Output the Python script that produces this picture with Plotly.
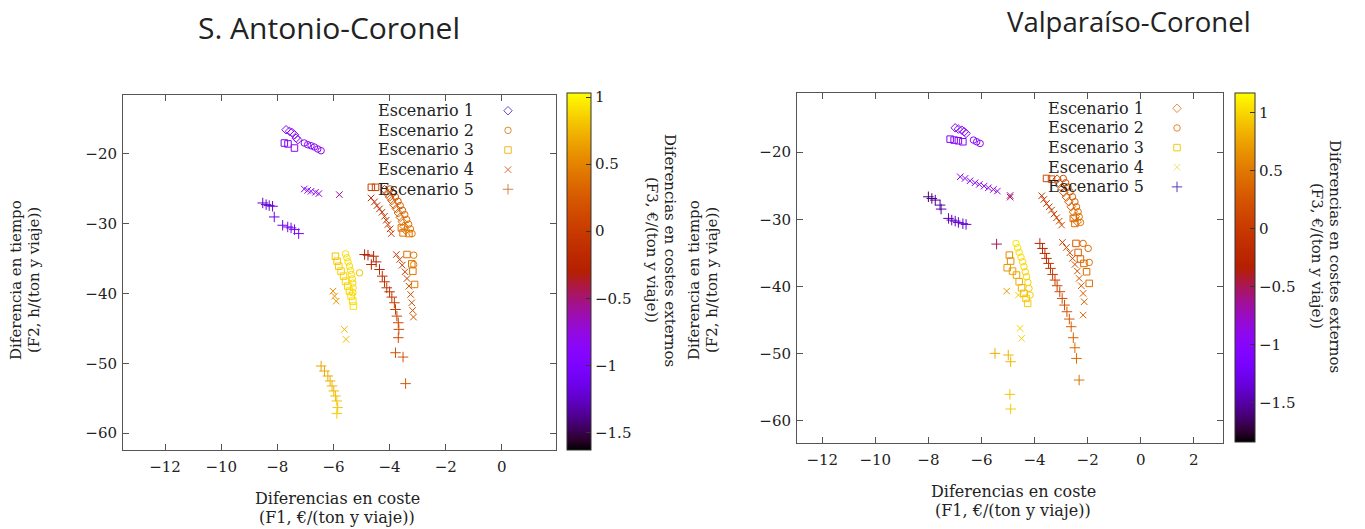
import math
import plotly.graph_objects as go

# ================= DATA =================
# --- S. Antonio-Coronel (F1 = cost diff, F2 = time diff, F3 = external cost diff) ---
sa_e1_f1 = [-7.69, -7.57, -7.48, -7.39, -7.33, -7.27,
            -4.18, -4.08, -4.00, -3.92, -3.85, -3.76, -3.69, -3.62, -3.55, -3.49, -3.43]
sa_e1_f2 = [-16.57, -16.80, -16.96, -17.29, -17.76, -18.00,
            -25.14, -25.71, -26.19, -26.71, -27.29, -27.86, -28.48, -29.10, -29.71, -30.38, -30.95]
sa_e1_f3 = [-0.92, -0.91, -0.90, -0.90, -0.89, -0.88,
            0.12, 0.15, 0.18, 0.21, 0.24, 0.27, 0.30, 0.33, 0.36, 0.39, 0.42]

sa_e2_f1 = [-7.04, -6.92, -6.80, -6.68, -6.56, -6.44,
            -3.98, -3.88, -3.79, -3.70, -3.62, -3.54, -3.46, -3.39, -3.32, -3.26, -3.20,
            -5.57, -5.52, -5.48, -5.43, -5.39, -5.36, -5.33, -5.31, -5.30, -5.31, -5.07,
            -3.14, -3.14]
sa_e2_f2 = [-18.47, -18.71, -18.86, -19.04, -19.33, -19.57,
            -25.05, -25.62, -26.19, -26.81, -27.43, -28.10, -28.71, -29.43, -30.10, -30.76, -31.43,
            -34.33, -34.90, -35.48, -36.10, -36.71, -37.29, -37.90, -38.52, -39.19, -39.90, -37.05,
            -34.52, -35.86]
sa_e2_f3 = [-0.87, -0.86, -0.86, -0.85, -0.84, -0.83,
            0.16, 0.19, 0.22, 0.25, 0.28, 0.31, 0.34, 0.37, 0.40, 0.43, 0.46,
            0.93, 0.92, 0.92, 0.91, 0.91, 0.90, 0.90, 0.89, 0.89, 0.88, 0.80,
            0.45, 0.48]

sa_e3_f1 = [-7.75, -7.62, -7.39, -4.65, -4.50, -3.58, -3.52, -3.31,
            -5.93, -5.87, -5.81, -5.73, -5.64, -5.57, -5.49, -5.43, -5.37, -5.31, -5.29,
            -3.38, -3.21, -3.17, -3.11]
sa_e3_f2 = [-18.47, -18.60, -19.19, -24.81, -24.81, -30.62, -31.33, -31.43,
            -34.67, -35.38, -36.10, -36.81, -37.52, -38.24, -38.95, -39.67, -40.38, -41.10, -41.81,
            -34.43, -35.76, -36.81, -38.71]
sa_e3_f3 = [-1.00, -0.95, -0.85, 0.02, 0.06, 0.38, 0.40, 0.42,
            0.80, 0.82, 0.84, 0.85, 0.86, 0.87, 0.88, 0.89, 0.90, 0.91, 0.92,
            0.38, 0.40, 0.42, 0.44]

sa_e4_f1 = [-7.04, -6.92, -6.80, -6.64, -6.52, -5.79,
            -4.66, -4.54, -4.45, -4.36, -4.27, -4.18, -4.12, -4.06, -3.98, -3.94,
            -6.02, -5.96, -5.90, -5.61, -5.55,
            -3.76, -3.64, -3.55, -3.45, -3.38, -3.31, -3.25, -3.21, -3.18, -3.15]
sa_e4_f2 = [-25.05, -25.24, -25.38, -25.52, -25.71, -25.86,
            -26.33, -26.90, -27.43, -27.90, -28.38, -28.95, -29.52, -30.14, -30.76, -31.43,
            -39.67, -40.38, -41.10, -45.14, -46.57,
            -34.43, -35.14, -35.95, -36.90, -37.86, -38.95, -40.14, -41.33, -42.43, -43.38]
sa_e4_f3 = [-0.88, -0.87, -0.86, -0.85, -0.84, -0.60,
            -0.18, -0.15, -0.12, -0.10, -0.08, -0.06, -0.04, -0.02, 0.00, 0.02,
            0.55, 0.58, 0.60, 0.76, 0.78,
            -0.05, 0.00, 0.03, 0.06, 0.09, 0.12, 0.15, 0.18, 0.20, 0.22]

sa_e5_f1 = [-8.52, -8.40, -8.29, -8.17, -8.11, -7.81, -7.63, -7.51, -7.39, -7.24,
            -4.89, -4.77, -4.57, -4.65, -4.48, -4.36, -4.26, -4.18, -4.10, -4.00,
            -3.92, -3.83, -3.79, -3.74, -3.69, -3.67, -3.69, -3.79, -3.52, -3.43,
            -6.44, -6.32, -6.20, -6.12, -6.05, -5.99, -5.93, -5.88, -5.85, -5.88]
sa_e5_f2 = [-27.05, -27.29, -27.43, -27.52, -29.05, -30.24, -30.48, -30.62, -30.86, -31.43,
            -34.43, -34.52, -34.67, -35.86, -35.48, -36.57, -37.52, -38.33, -39.19, -39.76,
            -40.52, -41.33, -42.29, -43.24, -44.19, -45.14, -46.33, -48.48, -49.10, -52.90,
            -50.38, -51.10, -51.81, -52.52, -53.24, -53.95, -54.67, -55.38, -56.33, -57.19]
sa_e5_f3 = [-1.25, -1.22, -1.20, -1.18, -1.15, -1.12, -1.10, -1.08, -1.06, -1.04,
            -0.32, -0.30, -0.27, -0.24, -0.22, -0.19, -0.16, -0.13, -0.10, -0.07,
            -0.04, -0.01, 0.02, 0.05, 0.08, 0.11, 0.14, 0.17, 0.20, 0.23,
            0.66, 0.68, 0.70, 0.72, 0.74, 0.76, 0.78, 0.80, 0.82, 0.84]

# --- Valparaíso-Coronel ---
va_e1_f1 = [-6.99, -6.87, -6.74, -6.65, -6.58,
            -3.15, -3.07, -2.98, -2.90, -2.80, -2.71, -2.62, -2.54, -2.47, -2.39]
va_e1_f2 = [-16.38, -16.58, -16.73, -16.97, -17.22,
            -24.02, -24.66, -25.31, -26.00, -26.70, -27.39, -28.14, -28.88, -29.62, -30.37]
va_e1_f3 = [-1.02, -1.01, -1.00, -0.99, -0.98,
            0.15, 0.19, 0.23, 0.27, 0.30, 0.33, 0.36, 0.39, 0.42, 0.45]

va_e2_f1 = [-6.30, -6.18, -6.05,
            -2.92, -2.83, -2.74, -2.66, -2.57, -2.48, -2.42, -2.36, -2.32, -2.27,
            -4.70, -4.64, -4.58, -4.51, -4.45, -4.40, -4.35, -4.30, -4.25, -4.21, -4.17,
            -2.17, -1.98, -1.94]
va_e2_f2 = [-18.21, -18.46, -18.71,
            -23.92, -24.56, -25.21, -25.90, -26.65, -27.39, -28.14, -28.88, -29.62, -30.47,
            -33.59, -34.24, -34.93, -35.63, -36.32, -37.06, -37.81, -38.55, -39.40, -40.29, -41.28,
            -33.59, -34.34, -36.42]
va_e2_f3 = [-0.97, -0.96, -0.95,
            0.18, 0.22, 0.26, 0.30, 0.33, 0.36, 0.39, 0.42, 0.45, 0.48,
            1.06, 1.05, 1.04, 1.03, 1.02, 1.01, 1.00, 0.99, 0.98, 0.97, 0.96,
            0.40, 0.42, 0.45]

va_e3_f1 = [-7.18, -7.03, -6.87, -6.70, -3.55, -3.36, -2.54, -2.48,
            -4.95, -4.90, -5.03, -4.83, -4.68, -4.58, -4.49, -4.40, -4.32, -4.26,
            -2.44, -2.36, -2.27, -2.14, -2.04, -1.94]
va_e3_f2 = [-18.07, -18.21, -18.31, -18.46, -23.92, -24.02, -29.87, -30.62,
            -35.33, -36.22, -37.21, -37.71, -38.30, -39.30, -40.19, -41.03, -41.78, -42.52,
            -33.59, -34.93, -35.92, -36.57, -37.81, -39.54]
va_e3_f3 = [-1.05, -1.02, -1.00, -0.98, 0.10, 0.14, 0.40, 0.43,
            0.62, 0.65, 0.68, 0.72, 0.76, 0.80, 0.84, 0.88, 0.92, 0.95,
            0.30, 0.33, 0.36, 0.39, 0.42, 0.45]

va_e4_f1 = [-6.80, -6.62, -6.43, -6.24, -6.08, -5.90, -5.74, -5.55, -5.40,
            -4.92, -4.92,
            -3.73, -3.65, -3.55, -3.45, -3.36, -3.27, -3.17, -3.07, -2.98,
            -5.05, -4.61, -4.55, -4.49,
            -2.95, -2.80, -2.67, -2.57, -2.48, -2.39, -2.32, -2.24, -2.17, -2.13, -2.17]
va_e4_f2 = [-23.67, -23.92, -24.27, -24.56, -24.81, -25.06, -25.31, -25.56, -25.80,
            -26.45, -26.70,
            -26.50, -27.04, -27.64, -28.14, -28.63, -29.23, -29.77, -30.27, -30.86,
            -40.69, -41.28, -46.24, -47.73,
            -33.44, -34.19, -34.98, -35.82, -36.72, -37.71, -38.80, -39.89, -41.03, -42.27, -44.26]
va_e4_f3 = [-0.97, -0.96, -0.95, -0.94, -0.93, -0.92, -0.91, -0.90, -0.89,
            -0.58, -0.55,
            -0.10, -0.07, -0.04, -0.01, 0.02, 0.05, 0.08, 0.11, 0.14,
            0.72, 0.95, 0.98, 1.00,
            0.05, 0.09, 0.13, 0.17, 0.20, 0.23, 0.26, 0.29, 0.32, 0.35, 0.38]

va_e5_f1 = [-8.00, -7.87, -7.74, -7.56, -7.52, -7.24, -7.12, -6.99, -6.87, -6.70, -6.58,
            -5.43,
            -3.80, -3.70, -3.61, -3.55, -3.47, -3.40, -3.32, -3.23, -3.15, -3.05,
            -2.96, -2.87, -2.78, -2.69, -2.62, -2.54, -2.48, -2.42, -2.32,
            -5.49, -4.99, -4.90, -4.93, -4.90]
va_e5_f2 = [-26.65, -26.90, -27.14, -27.89, -28.48, -29.87, -30.12, -30.27, -30.47, -30.66, -30.76,
            -33.69,
            -33.59, -34.34, -35.08, -35.82, -36.57, -37.31, -38.21, -39.05, -39.89, -40.78,
            -41.78, -42.77, -43.76, -44.85, -45.99, -47.63, -49.12, -50.71, -53.93,
            -49.96, -50.21, -51.20, -56.06, -58.24]
va_e5_f3 = [-1.62, -1.58, -1.55, -1.50, -1.48, -1.45, -1.43, -1.41, -1.39, -1.37, -1.35,
            -0.50,
            -0.25, -0.21, -0.17, -0.13, -0.09, -0.05, -0.01, 0.03, 0.07, 0.11,
            0.15, 0.19, 0.23, 0.27, 0.31, 0.35, 0.38, 0.41, 0.45,
            0.80, 0.84, 0.86, 0.92, 0.95]

scenario_names = ["Escenario 1", "Escenario 2", "Escenario 3", "Escenario 4", "Escenario 5"]
panel_titles = ["S. Antonio-Coronel", "Valparaíso-Coronel"]
x_title = ["Diferencias en coste", "(F1, €/(ton y viaje))"]
y_title = ["Diferencia en tiempo", "(F2, h/(ton y viaje))"]
cb_title = ["Diferencias en costes externos", "(F3, €/(ton y viaje))"]
cb_ticks = [-1.5, -1, -0.5, 0, 0.5, 1]

# ================= STYLE =================
W, H = 1365, 529
SERIF = "DejaVu Serif"
SANS = "Open Sans"
TXT = "#222222"
FRAME = "#555555"


def pxx(v):
    return v / W


def pxy(v):
    return 1 - v / H


def gnuplot_palette(n=41):
    cs = []
    for i in range(n):
        t = i / (n - 1)
        r = math.sqrt(t)
        g = t ** 3
        b = max(0.0, math.sin(2 * math.pi * t))
        cs.append([t, f"rgb({round(r*255)},{round(g*255)},{round(b*255)})"])
    return cs


PAL = gnuplot_palette()
SYMBOLS = ["diamond-open", "circle-open", "square-open", "x-thin-open", "cross-thin-open"]
SIZES = [6.5, 6.5, 6.5, 6.5, 7.5]

sa = [(sa_e1_f1, sa_e1_f2, sa_e1_f3), (sa_e2_f1, sa_e2_f2, sa_e2_f3), (sa_e3_f1, sa_e3_f2, sa_e3_f3),
      (sa_e4_f1, sa_e4_f2, sa_e4_f3), (sa_e5_f1, sa_e5_f2, sa_e5_f3)]
va = [(va_e1_f1, va_e1_f2, va_e1_f3), (va_e2_f1, va_e2_f2, va_e2_f3), (va_e3_f1, va_e3_f2, va_e3_f3),
      (va_e4_f1, va_e4_f2, va_e4_f3), (va_e5_f1, va_e5_f2, va_e5_f3)]

legend_colors_sa = ["#6a48d8", "#e08a30", "#f2b820", "#dc6a3a", "#d9804a"]
legend_colors_va = ["#e08a40", "#e08a30", "#f0cc10", "#eee070", "#5a3ac0"]

fig = go.Figure()

panels = [
    dict(data=sa, xa="x", ya="y", cax="coloraxis", leg="legend", lcol=legend_colors_sa),
    dict(data=va, xa="x2", ya="y2", cax="coloraxis2", leg="legend2", lcol=legend_colors_va),
]

for p in panels:
    for k, (f1, f2, f3) in enumerate(p["data"]):
        fig.add_trace(go.Scatter(
            x=f1, y=f2, mode="markers", name=scenario_names[k], showlegend=False,
            xaxis=p["xa"], yaxis=p["ya"],
            marker=dict(symbol=SYMBOLS[k], size=SIZES[k], color=f3, coloraxis=p["cax"],
                        line=dict(width=1)),
        ))
    for k in range(5):
        fig.add_trace(go.Scatter(
            x=[None], y=[None], mode="markers", name="", showlegend=True, legend=p["leg"],
            xaxis=p["xa"], yaxis=p["ya"], hoverinfo="skip",
            marker=dict(symbol=SYMBOLS[k], size=SIZES[k], color=p["lcol"][k], line=dict(width=1)),
        ))

axis_common = dict(ticks="inside", ticklen=6, tickcolor=FRAME, showline=True, linecolor=FRAME,
                   linewidth=1, mirror="ticks", showgrid=False, zeroline=False,
                   tickfont=dict(family=SERIF, size=15, color=TXT))

colorbar_common = dict(xanchor="left", yanchor="middle", lenmode="pixels", thicknessmode="pixels",
                       xpad=0, ypad=0, outlinewidth=1, outlinecolor="#333333", ticks="inside",
                       ticklen=5, tickcolor="#333333", tickvals=cb_ticks,
                       tickfont=dict(family=SERIF, size=15, color=TXT))

fig.update_layout(
    width=W, height=H, margin=dict(l=0, r=0, t=0, b=0, autoexpand=False),
    paper_bgcolor="white", plot_bgcolor="white",
    xaxis=dict(domain=[pxx(123), pxx(556)], anchor="y", range=[-13.5, 1.93], tick0=0, dtick=2,
               ticklabelstandoff=3, **axis_common),
    yaxis=dict(domain=[pxy(450), pxy(95)], anchor="x", range=[-62.4, -11.6], tick0=0, dtick=10,
               ticklabelstandoff=2, **axis_common),
    xaxis2=dict(domain=[pxx(797), pxx(1223)], anchor="y2", range=[-12.95, 3.1], tick0=0, dtick=2,
                ticklabelstandoff=3, **axis_common),
    yaxis2=dict(domain=[pxy(443), pxy(93)], anchor="x2", range=[-63.3, -11.2], tick0=0, dtick=10,
                ticklabelstandoff=2, **axis_common),
    coloraxis=dict(colorscale=PAL, cmin=-1.63, cmax=1.03,
                   colorbar=dict(x=pxx(567), y=pxy(271.5), len=357, thickness=24, **colorbar_common)),
    coloraxis2=dict(colorscale=PAL, cmin=-1.84, cmax=1.17,
                    colorbar=dict(x=pxx(1235), y=pxy(267.5), len=349, thickness=20, **colorbar_common)),
    legend=dict(x=pxx(508 - 20), y=pxy(110.7 - 14.8), xanchor="left", yanchor="top",
                bgcolor="rgba(0,0,0,0)", borderwidth=0, font=dict(size=12.8), tracegroupgap=0),
    legend2=dict(x=pxx(1177 - 20), y=pxy(108.3 - 14.8), xanchor="left", yanchor="top",
                 bgcolor="rgba(0,0,0,0)", borderwidth=0, font=dict(size=12.8), tracegroupgap=0),
    showlegend=True,
)

ann = []


def add_text(text, x, y, size, family=SERIF, angle=0, xanchor="center"):
    ann.append(dict(text=text, x=pxx(x), y=pxy(y), xref="paper", yref="paper", showarrow=False,
                    xanchor=xanchor, yanchor="middle", textangle=angle, borderpad=0,
                    font=dict(family=family, size=size, color=TXT)))


# panel titles
add_text(panel_titles[0], 329, 28, 30, family=SANS)
add_text(panel_titles[1], 1129, 22, 27.5, family=SANS)
# legend texts
for k in range(5):
    add_text(scenario_names[k], 377, 110.7 + 19.6 * k, 16, xanchor="left")
    add_text(scenario_names[k], 1047, 108.3 + 19.6 * k, 16, xanchor="left")
# x titles
add_text(x_title[0], 337, 498, 16)
add_text(x_title[1], 337, 517, 16)
add_text(x_title[0], 1013, 491, 16)
add_text(x_title[1], 1013, 510, 16)
# y titles
add_text(y_title[0], 16, 280, 15, angle=-90)
add_text(y_title[1], 34, 280, 15, angle=-90)
add_text(y_title[0], 694, 280, 15, angle=-90)
add_text(y_title[1], 712, 280, 15, angle=-90)
# colorbar titles
add_text(cb_title[0], 670, 250, 15, angle=90)
add_text(cb_title[1], 652, 250, 15, angle=90)
add_text(cb_title[0], 1335, 256, 15, angle=90)
add_text(cb_title[1], 1317, 256, 15, angle=90)

fig.update_layout(annotations=ann)

fig.write_html("out.html")
